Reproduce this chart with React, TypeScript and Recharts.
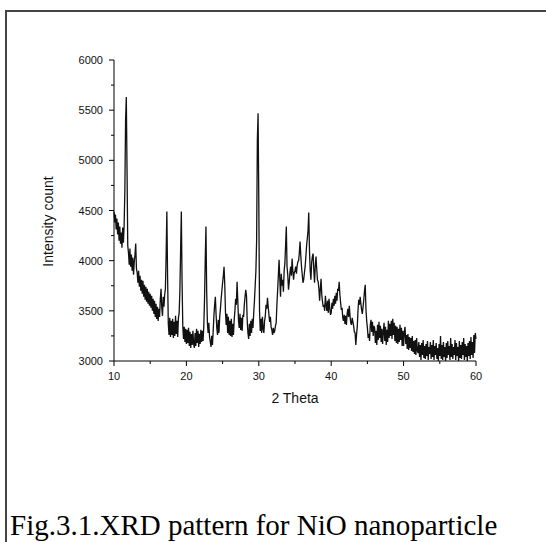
import { LineChart, Line, XAxis, YAxis } from "recharts";

const thetaStart = 10;
const thetaStep = 0.1;

const intensity: number[] = [
  // 10
  4490, 4380, 4460, 4310, 4420, 4260, 4380, 4200, 4340, 4170,
  // 11
  4280, 4130, 4330, 4180, 4350, 4700, 5400, 5630, 4900, 4150,
  // 12
  4080, 3960, 4120, 3940, 4060, 3900, 4030, 3860, 3990, 4060,
  // 13
  4170, 3920, 3880, 3780, 3900, 3740, 3850, 3700, 3810, 3670,
  // 14
  3800, 3640, 3760, 3610, 3740, 3590, 3720, 3570, 3690, 3550,
  // 15
  3670, 3530, 3650, 3500, 3620, 3470, 3600, 3440, 3570, 3420,
  // 16
  3540, 3400, 3520, 3440, 3620, 3720, 3530, 3450, 3640, 3540,
  // 17
  3660, 3720, 4050, 4490, 3850, 3370, 3260, 3430, 3240, 3400,
  // 18
  3260, 3420, 3230, 3390, 3250, 3450, 3270, 3400, 3240, 3430,
  // 19
  3480, 3700, 4100, 4490, 3800, 3350, 3220, 3340, 3190, 3320,
  // 20
  3170, 3310, 3180, 3330, 3150, 3290, 3130, 3270, 3160, 3300,
  // 21
  3170, 3130, 3280, 3150, 3320, 3180, 3300, 3140, 3270, 3170,
  // 22
  3310, 3190, 3300, 3200, 3340, 3600, 4000, 4340, 3700, 3380,
  // 23
  3280, 3380, 3240, 3190, 3140, 3250, 3160, 3300, 3450, 3560,
  // 24
  3640, 3460, 3330, 3260, 3410, 3280, 3440, 3520, 3620, 3700,
  // 25
  3780, 3850, 3940, 3760, 3480, 3360, 3470, 3280, 3440, 3260,
  // 26
  3400, 3250, 3420, 3240, 3370, 3260, 3410, 3500, 3620, 3560,
  // 27
  3790, 3600, 3400, 3330, 3470, 3310, 3430, 3300, 3460, 3440,
  // 28
  3560, 3640, 3710, 3650, 3400, 3280, 3220, 3370, 3250, 3400,
  // 29
  3280, 3420, 3330, 3480, 3600, 3750, 3900, 4200, 5200, 5470,
  // 30
  4600, 3500, 3300, 3420, 3280, 3440, 3320, 3280, 3400, 3450,
  // 31
  3560, 3520, 3630, 3540, 3460, 3390, 3440, 3340, 3310, 3260,
  // 32
  3330, 3280, 3300, 3350, 3380, 3560, 3700, 3850, 4010, 3820,
  // 33
  3640, 3870, 3750, 3810, 3690, 3900, 3970, 4150, 4340, 3940,
  // 34
  3860, 3710, 3780, 3880, 3940, 3850, 4020, 3900, 3810, 3880,
  // 35
  3900, 3940, 3870, 3950, 3990, 4000, 4080, 4190, 4050, 3940,
  // 36
  3860, 3780, 3810, 3880, 3940, 4040, 4150, 4220, 4300, 4480,
  // 37
  4100, 3900, 3810, 3980, 4040, 4070, 3900, 3780, 3950, 4040,
  // 38
  3920, 3810, 3790, 3720, 3600, 3720, 3820, 3660, 3590, 3540,
  // 39
  3560, 3500, 3650, 3560, 3500, 3600, 3480, 3620, 3530, 3460,
  // 40
  3480, 3580, 3520, 3620, 3550, 3650, 3570, 3680, 3600, 3720,
  // 41
  3700, 3790, 3660, 3580, 3510, 3530, 3430, 3400, 3460, 3370,
  // 42
  3450, 3360, 3470, 3520, 3440, 3550, 3450, 3380, 3360, 3430,
  // 43
  3390, 3350, 3290, 3280, 3160, 3260, 3340, 3500, 3610, 3560,
  // 44
  3640, 3570, 3510, 3470, 3540, 3610, 3700, 3760, 3520, 3400,
  // 45
  3330, 3230, 3270, 3200, 3360, 3410, 3290, 3390, 3250, 3350,
  // 46
  3330, 3180, 3300, 3160, 3360, 3210, 3390, 3230, 3350, 3190,
  // 47
  3320, 3170, 3290, 3380, 3200, 3340, 3160, 3310, 3190, 3400,
  // 48
  3230, 3370, 3250, 3400, 3220, 3420, 3260, 3380, 3200, 3350,
  // 49
  3180, 3340, 3170, 3320, 3190, 3360, 3210, 3330, 3150, 3300,
  // 50
  3150, 3290, 3340, 3170, 3260, 3120, 3270, 3110, 3240, 3130,
  // 51
  3230, 3100, 3250, 3090, 3200, 3070, 3210, 3060, 3230, 3100,
  // 52
  3080, 3190, 3040, 3160, 3010, 3180, 3060, 3210, 3030, 3150,
  // 53
  3020, 3170, 3050, 3200, 3010, 3140, 3070, 3190, 3020, 3160,
  // 54
  3040, 3210, 3010, 3150, 3060, 3180, 3020, 3130, 3000, 3170,
  // 55
  3050, 3250, 3020, 3160, 3010, 3190, 3040, 3140, 3000, 3180,
  // 56
  3030, 3200, 3060, 3150, 3010, 3230, 3040, 3170, 3020, 3140,
  // 57
  3060, 3210, 3010, 3180, 3050, 3140, 3000, 3200, 3030, 3160,
  // 58
  3020, 3190, 3060, 3230, 3010, 3170, 3040, 3150, 3000, 3180,
  // 59
  3050, 3200, 3020, 3240, 3060, 3190, 3030, 3260, 3080, 3280,
  // 60
  3220,
];

const xTicks = [10, 15, 20, 25, 30, 35, 40, 45, 50, 55, 60];
const yTicks = [3000, 3250, 3500, 3750, 4000, 4250, 4500, 4750, 5000, 5250, 5500, 5750, 6000];

const data = intensity.map((v, i) => ({
  theta: Math.round((thetaStart + i * thetaStep) * 10) / 10,
  counts: v,
}));

const tickFont = { fontFamily: "Liberation Sans, Arial, sans-serif", fontSize: 11, fill: "#111" };

function XTick({ x, y, payload }: any) {
  const major = payload.value % 10 === 0;
  return (
    <g>
      <line x1={x} y1={y} x2={x} y2={y + (major ? 5 : 3)} stroke="#000" />
      {major && (
        <text x={x} y={y + 19} textAnchor="middle" {...tickFont}>
          {payload.value}
        </text>
      )}
    </g>
  );
}

function YTick({ x, y, payload }: any) {
  const major = payload.value % 500 === 0;
  return (
    <g>
      <line x1={x - (major ? 5 : 3)} y1={y} x2={x} y2={y} stroke="#000" />
      {major && (
        <text x={x - 11} y={y + 4} textAnchor="end" {...tickFont}>
          {payload.value}
        </text>
      )}
    </g>
  );
}

function YTitle({ viewBox }: any) {
  const cx = viewBox.x - 6;
  const cy = viewBox.y + viewBox.height / 2 + 11;
  return (
    <text
      x={cx}
      y={cy}
      transform={`rotate(-90 ${cx} ${cy})`}
      textAnchor="middle"
      dominantBaseline="central"
      fontFamily="Liberation Sans, Arial, sans-serif"
      fontSize={14}
      fill="#111"
    >
      Intensity count
    </text>
  );
}

export default function App() {
  return (
    <div style={{ position: "absolute", left: 0, top: 0, width: 546, height: 542, overflow: "hidden", background: "#fff" }}>
      <div
        style={{
          position: "absolute",
          left: 5,
          top: 10,
          width: 600,
          height: 600,
          borderTop: "2px solid #444",
          borderLeft: "2px solid #444",
        }}
      />
      <div style={{ position: "absolute", left: 0, top: 0 }}>
        <LineChart width={546} height={420} data={data} margin={{ top: 60, right: 70, bottom: 29, left: 54 }}>
          <XAxis
            dataKey="theta"
            type="number"
            domain={[10, 60]}
            ticks={xTicks}
            interval={0}
            height={30}
            tickSize={0}
            tickMargin={0}
            tick={<XTick />}
            stroke="#000"
            label={{
              value: "2 Theta",
              position: "bottom",
              offset: 2,
              fontFamily: "Liberation Sans, Arial, sans-serif",
              fontSize: 14,
              fill: "#111",
            }}
          />
          <YAxis
            type="number"
            domain={[3000, 6000]}
            ticks={yTicks}
            interval={0}
            allowDataOverflow
            width={60}
            tickSize={0}
            tickMargin={0}
            tick={<YTick />}
            stroke="#000"
            label={{ content: <YTitle /> }}
          />
          <Line
            type="linear"
            dataKey="counts"
            stroke="#111"
            strokeWidth={1.3}
            dot={false}
            isAnimationActive={false}
          />
        </LineChart>
      </div>
      <div
        style={{
          position: "absolute",
          left: 10,
          top: 511,
          fontFamily: "Liberation Serif, Times New Roman, serif",
          fontSize: 29,
          lineHeight: 1,
          color: "#000",
          whiteSpace: "nowrap",
        }}
      >
        Fig.3.1.XRD pattern for NiO nanoparticle
      </div>
    </div>
  );
}
